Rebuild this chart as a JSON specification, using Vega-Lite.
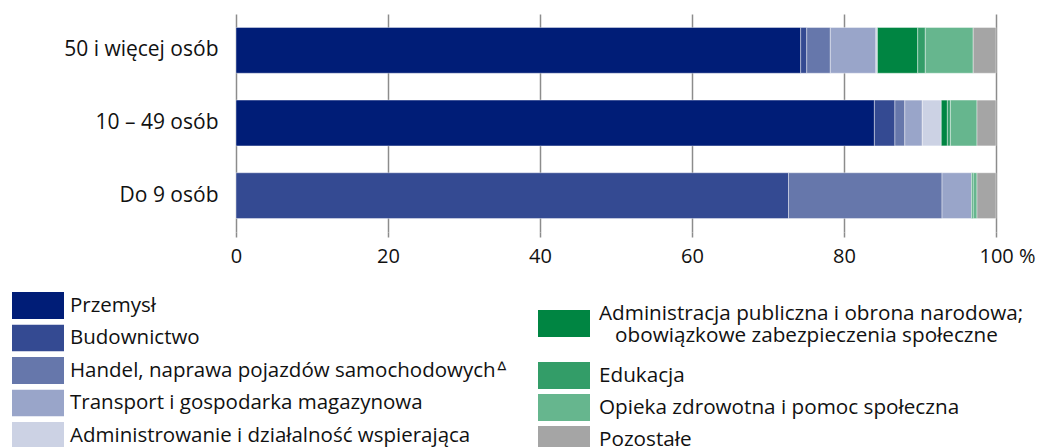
{
  "$schema": "https://vega.github.io/schema/vega-lite/v6.json",
  "autosize": {"type": "none"},
  "width": 760,
  "height": 218,
  "padding": {"left": 236, "top": 14, "right": 42, "bottom": 215},
  "background": "white",
  "config": {
    "font": "Open Sans",
    "view": {"stroke": null}
  },
  "data": {
    "values": [
      {"g": "50 i więcej osób", "c": "Przemysł", "i": 1, "v": 74.3, "side": "L"},
      {"g": "50 i więcej osób", "c": "Budownictwo", "i": 2, "v": 0.8, "side": "L"},
      {"g": "50 i więcej osób", "c": "Handel, naprawa pojazdów samochodowychᐞ", "i": 3, "v": 3.1, "side": "L"},
      {"g": "50 i więcej osób", "c": "Transport i gospodarka magazynowa", "i": 4, "v": 6.0, "side": "L"},
      {"g": "50 i więcej osób", "c": "Administrowanie i działalność wspierająca", "i": 5, "v": 0.2, "side": "L"},
      {"g": "50 i więcej osób", "c": "Administracja publiczna i obrona narodowa; obowiązkowe zabezpieczenia społeczne", "i": 6, "v": 5.3, "side": "A"},
      {"g": "50 i więcej osób", "c": "Edukacja", "i": 7, "v": 1.0, "side": "R"},
      {"g": "50 i więcej osób", "c": "Opieka zdrowotna i pomoc społeczna", "i": 8, "v": 6.3, "side": "R"},
      {"g": "50 i więcej osób", "c": "Pozostałe", "i": 9, "v": 3.0, "side": "R"},
      {"g": "10 – 49 osób", "c": "Przemysł", "i": 1, "v": 84.0, "side": "L"},
      {"g": "10 – 49 osób", "c": "Budownictwo", "i": 2, "v": 2.7, "side": "L"},
      {"g": "10 – 49 osób", "c": "Handel, naprawa pojazdów samochodowychᐞ", "i": 3, "v": 1.3, "side": "L"},
      {"g": "10 – 49 osób", "c": "Transport i gospodarka magazynowa", "i": 4, "v": 2.3, "side": "L"},
      {"g": "10 – 49 osób", "c": "Administrowanie i działalność wspierająca", "i": 5, "v": 2.5, "side": "L"},
      {"g": "10 – 49 osób", "c": "Administracja publiczna i obrona narodowa; obowiązkowe zabezpieczenia społeczne", "i": 6, "v": 0.8, "side": "A"},
      {"g": "10 – 49 osób", "c": "Edukacja", "i": 7, "v": 0.4, "side": "R"},
      {"g": "10 – 49 osób", "c": "Opieka zdrowotna i pomoc społeczna", "i": 8, "v": 3.5, "side": "R"},
      {"g": "10 – 49 osób", "c": "Pozostałe", "i": 9, "v": 2.5, "side": "R"},
      {"g": "Do 9 osób", "c": "Przemysł", "i": 1, "v": 0, "side": "L"},
      {"g": "Do 9 osób", "c": "Budownictwo", "i": 2, "v": 72.7, "side": "L"},
      {"g": "Do 9 osób", "c": "Handel, naprawa pojazdów samochodowychᐞ", "i": 3, "v": 20.2, "side": "L"},
      {"g": "Do 9 osób", "c": "Transport i gospodarka magazynowa", "i": 4, "v": 3.9, "side": "L"},
      {"g": "Do 9 osób", "c": "Administrowanie i działalność wspierająca", "i": 5, "v": 0, "side": "L"},
      {"g": "Do 9 osób", "c": "Administracja publiczna i obrona narodowa; obowiązkowe zabezpieczenia społeczne", "i": 6, "v": 0.2, "side": "A"},
      {"g": "Do 9 osób", "c": "Edukacja", "i": 7, "v": 0, "side": "R"},
      {"g": "Do 9 osób", "c": "Opieka zdrowotna i pomoc społeczna", "i": 8, "v": 0.5, "side": "R"},
      {"g": "Do 9 osób", "c": "Pozostałe", "i": 9, "v": 2.5, "side": "R"}
    ]
  },
  "transform": [
    {"stack": "v", "groupby": ["g"], "sort": [{"field": "i", "order": "ascending"}], "as": ["x0", "x1"]}
  ],
  "encoding": {
    "y": {
      "field": "g", "type": "nominal",
      "sort": ["50 i więcej osób", "10 – 49 osób", "Do 9 osób"],
      "scale": {"paddingInner": 0.37, "paddingOuter": 0.185},
      "axis": {"title": null, "ticks": false, "domain": false, "labelFontSize": 21, "labelColor": "#111", "labelPadding": 18}
    },
    "x": {
      "field": "x0", "type": "quantitative",
      "scale": {"domain": [0, 100], "nice": false},
      "axis": {
        "title": null, "values": [0, 20, 40, 60, 80, 100],
        "labelExpr": "datum.value == 100 ? '100 %' : datum.label",
        "labelFontSize": 20, "labelColor": "#111", "labelPadding": 9,
        "labelAlign": {"condition": {"test": "datum.value == 100", "value": "left"}, "value": "center"},
        "labelOffset": {"condition": {"test": "datum.value == 100", "value": -17}, "value": 0},
        "labelFlush": false,
        "domain": false, "grid": true, "gridColor": "#8c8c8c", "gridWidth": 1.5,
        "ticks": true, "tickColor": "#8c8c8c", "tickWidth": 1.5, "tickSize": 5
      }
    },
    "x2": {"field": "x1"}
  },
  "resolve": {"scale": {"fill": "independent"}, "legend": {"fill": "independent"}},
  "layer": [
    {
      "transform": [{"filter": "datum.side == 'L'"}],
      "mark": {"type": "bar", "stroke": "white", "strokeWidth": 0.8, "strokeOpacity": 0.5},
      "encoding": {
        "color": {
          "field": "c", "type": "nominal",
          "scale": {
            "domain": ["Przemysł", "Budownictwo", "Handel, naprawa pojazdów samochodowychᐞ", "Transport i gospodarka magazynowa", "Administrowanie i działalność wspierająca"],
            "range": ["#001d77", "#344a92", "#6677ab", "#99a5c9", "#ccd2e4"]
          },
          "legend": {
            "title": null, "orient": "none", "legendX": -224, "legendY": 278, "padding": 0,
            "symbolType": "M-1,-0.52H1V0.52H-1Z", "symbolSize": 2704, "symbolStrokeWidth": 0,
            "clipHeight": 27, "rowPadding": 5.5, "labelOffset": 6,
            "labelFontSize": 20.5, "labelColor": "#111", "labelLimit": 0
          }
        }
      }
    },
    {
      "transform": [{"filter": "datum.side == 'A'"}],
      "mark": {"type": "bar", "stroke": "white", "strokeWidth": 0.8, "strokeOpacity": 0.5},
      "encoding": {
        "fill": {
          "field": "c", "type": "nominal",
          "scale": {
            "domain": ["Administracja publiczna i obrona narodowa; obowiązkowe zabezpieczenia społeczne"],
            "range": ["#008542"]
          },
          "legend": {
            "title": null, "orient": "none", "legendX": 302, "legendY": 296, "padding": 0,
            "symbolType": "M-1,-0.52H1V0.52H-1Z", "symbolSize": 2704, "symbolStrokeWidth": 0,
            "clipHeight": 27, "labelOffset": 9,
            "labelFontSize": 20.7, "labelColor": "#111", "labelLimit": 0,
            "labelBaseline": "bottom",
            "labelExpr": "['Administracja publiczna i obrona narodowa;', '\u200b\u00a0\u00a0\u00a0obowiązkowe zabezpieczenia społeczne']"
          }
        }
      }
    },
    {
      "transform": [{"filter": "datum.side == 'R'"}],
      "mark": {"type": "bar", "stroke": "white", "strokeWidth": 0.8, "strokeOpacity": 0.5},
      "encoding": {
        "fill": {
          "field": "c", "type": "nominal",
          "scale": {
            "domain": ["Edukacja", "Opieka zdrowotna i pomoc społeczna", "Pozostałe"],
            "range": ["#339d68", "#66b68e", "#a5a5a5"]
          },
          "legend": {
            "title": null, "orient": "none", "legendX": 302, "legendY": 348, "padding": 0,
            "symbolType": "M-1,-0.52H1V0.52H-1Z", "symbolSize": 2704, "symbolStrokeWidth": 0,
            "clipHeight": 27, "rowPadding": 5, "labelOffset": 9,
            "labelFontSize": 20.7, "labelColor": "#111", "labelLimit": 0
          }
        }
      }
    }
  ]
}
